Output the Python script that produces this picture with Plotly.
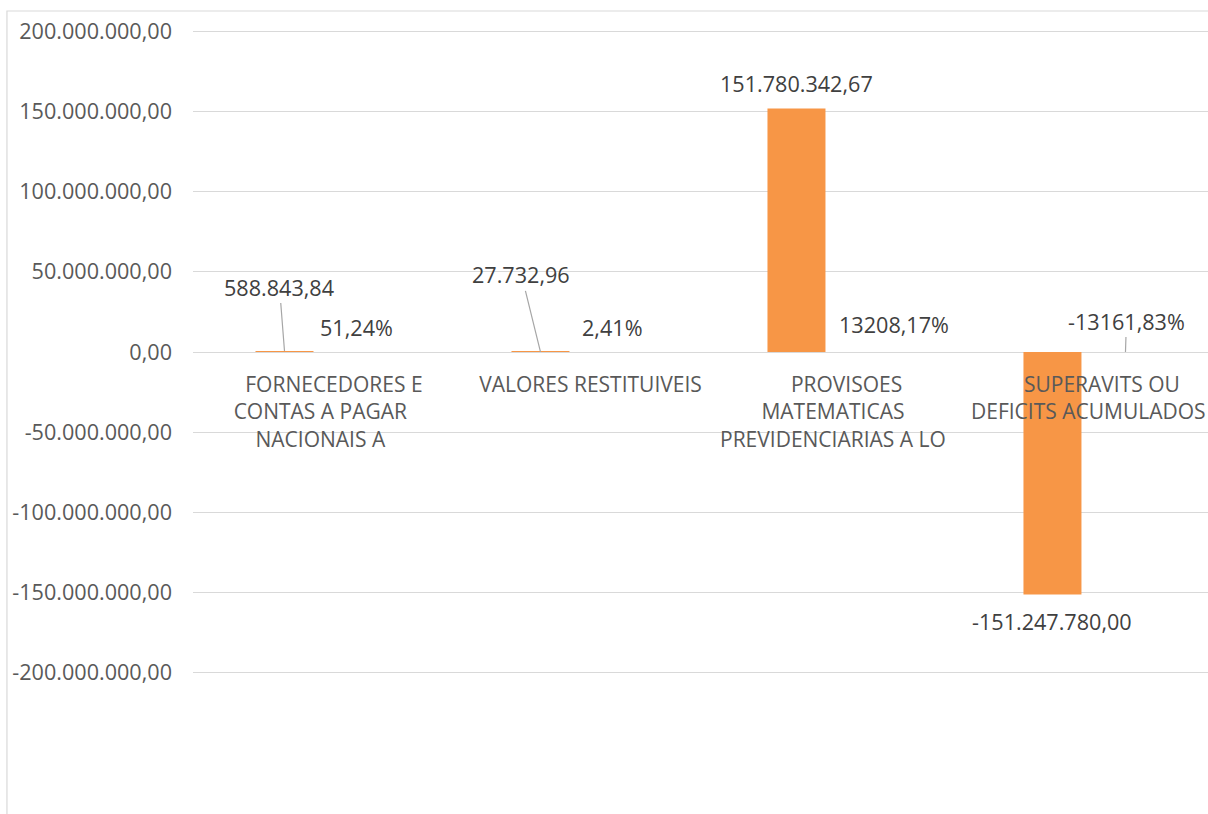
import plotly.graph_objects as go

# ---------------- data ----------------
categories = [
    "FORNECEDORES E CONTAS A PAGAR NACIONAIS A",
    "VALORES RESTITUIVEIS",
    "PROVISOES MATEMATICAS PREVIDENCIARIAS A LO",
    "SUPERAVITS OU DEFICITS ACUMULADOS",
]
category_lines = [
    ["FORNECEDORES E", "CONTAS A PAGAR", "NACIONAIS A"],
    ["VALORES RESTITUIVEIS"],
    ["PROVISOES", "MATEMATICAS", "PREVIDENCIARIAS A LO"],
    ["SUPERAVITS OU", "DEFICITS ACUMULADOS"],
]
values = [588843.84, 27732.96, 151780342.67, -151247780.00]
percents = [51.24, 2.41, 13208.17, -13161.83]

tick_values = [200e6, 150e6, 100e6, 50e6, 0, -50e6, -100e6, -150e6, -200e6]
tick_labels = ["200.000.000,00", "150.000.000,00", "100.000.000,00", "50.000.000,00",
               "0,00", "-50.000.000,00", "-100.000.000,00", "-150.000.000,00",
               "-200.000.000,00"]


def fmt_br(v, thousands=True):
    s = f"{abs(v):,.2f}" if thousands else f"{abs(v):.2f}"
    s = s.replace(",", "X").replace(".", ",").replace("X", ".")
    return ("-" if v < 0 else "") + s


# ---------------- style ----------------
FONT = "Open Sans"
FS = 21
FS_NUM = 21.6
BAR = "#F79646"
GRID = "#D9D9D9"
AXIS_TXT = "#595959"
LBL_TXT = "#404040"
LEADER = "#A6A6A6"
BAR_W = 0.2266          # bar width (category units)
HALF_SHIFT = 0.1426     # offset of each series from category center
# per-label pixel offsets: (dx, dy, leader_line)
value_off = [(-5, -64, True), (-19, -77, True), (0, -25, False), (0, 27, False)]
pct_off = [(-1, -25, False), (-1, -25, False), (25, -27, False), (1, -31, True)]

fig = go.Figure()
fig.add_trace(go.Bar(
    x=categories, y=values, width=BAR_W, offset=-HALF_SHIFT - BAR_W / 2,
    marker=dict(color=BAR, line=dict(width=0)), hoverinfo="skip", showlegend=False,
))
fig.add_trace(go.Bar(
    x=categories, y=percents, width=BAR_W, offset=HALF_SHIFT - BAR_W / 2,
    marker=dict(color="rgba(0,0,0,0)", line=dict(width=0)), hoverinfo="skip",
    showlegend=False,
))

annotations = []


def add_label(xpos, yval, text, off):
    dx, dy, leader = off
    base = dict(x=xpos, y=yval, xref="x", yref="y", text=text,
                font=dict(family=FONT, size=FS_NUM, color=LBL_TXT))
    if leader:
        base.update(showarrow=True, arrowhead=0, arrowwidth=1.2, arrowcolor=LEADER,
                    ax=dx, ay=dy, standoff=0, startstandoff=0)
    else:
        base.update(showarrow=False, xshift=dx, yshift=-dy,
                    xanchor="center", yanchor="middle")
    annotations.append(base)


for i, v in enumerate(values):
    add_label(i - HALF_SHIFT, v, fmt_br(v), value_off[i])
for i, p in enumerate(percents):
    add_label(i + HALF_SHIFT, p, fmt_br(p, thousands=False) + "%", pct_off[i])

# category labels placed next to the zero axis
for i, lines in enumerate(category_lines):
    txt = "<br>".join(["\u00a0" * 5 + lines[0]] + lines[1:])
    annotations.append(dict(
        x=i, y=0, xref="x", yref="y", text=txt, showarrow=False,
        xanchor="center", yanchor="top", yshift=-16, align="center",
        font=dict(family=FONT, size=FS, color=AXIS_TXT),
    ))

fig.update_layout(
    width=1208, height=814,
    margin=dict(l=193, r=0, t=28, b=138),
    paper_bgcolor="white", plot_bgcolor="white",
    barmode="overlay",
    font=dict(family=FONT, size=FS, color=AXIS_TXT),
    annotations=annotations,
    shapes=[dict(type="rect", xref="paper", yref="paper",
                 x0=-0.1833, x1=1.05, y0=-0.3, y1=1.0262,
                 line=dict(color=GRID, width=1.2), fillcolor="rgba(0,0,0,0)",
                 layer="below")],
    xaxis=dict(type="category", range=[-0.5, 3.465], showticklabels=False,
               showgrid=False, zeroline=False, showline=False, ticks=""),
    yaxis=dict(range=[-202e6, 202e6], tickvals=tick_values, ticktext=tick_labels,
               showgrid=True, gridcolor=GRID, gridwidth=1.3,
               zeroline=True, zerolinecolor=GRID, zerolinewidth=1.3,
               showline=False, ticks="", ticklabelstandoff=20,
               tickfont=dict(family=FONT, size=FS_NUM, color=AXIS_TXT)),
)

fig.write_html("out.html")
